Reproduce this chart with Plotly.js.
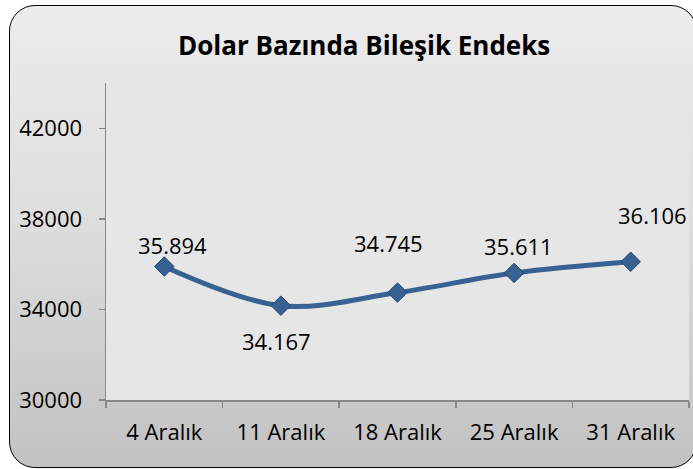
<!DOCTYPE html>
<html>
<head>
<meta charset="utf-8">
<script src="https://cdn.plot.ly/plotly-3.0.1.min.js"></script>
<style>
  html, body { margin: 0; padding: 0; width: 693px; height: 469px; overflow: hidden; background: #ffffff; }
  #frame {
    position: absolute; left: 9px; top: 5px; width: 688px; height: 463px;
    border: 1.6px solid #000; border-radius: 26px;
    background: linear-gradient(to bottom, #ececec 0%, #dedede 45%, #c2c2c2 100%);
    box-sizing: border-box;
  }
  #chart { position: absolute; left: 0; top: 0; width: 693px; height: 469px; }
</style>
</head>
<body>
<div id="frame"></div>
<div id="chart"></div>
<script>
const categories = ["4 Aralık", "11 Aralık", "18 Aralık", "25 Aralık", "31 Aralık"];
const values = [35894, 34167, 34745, 35611, 36106];
const yTickValues = [30000, 34000, 38000, 42000];

// label placement offsets (pixels) - style only
const labelDX = [8, -4, -9, 4, 22];
const labelDY = [22, -35, 50, 27, 47];

function fmtTR(v) {
  const th = Math.floor(v / 1000);
  const rest = String(v % 1000).padStart(3, "0");
  return th + "." + rest;
}

const font = "'Open Sans', 'Noto Sans', sans-serif";

const trace = {
  type: "scatter",
  mode: "lines+markers",
  x: categories,
  y: values,
  line: { color: "#386194", width: 5, shape: "spline", smoothing: 1 },
  marker: { symbol: "diamond", size: 15, color: "#386194", line: { color: "#27476f", width: 1 } },
  hoverinfo: "skip",
  cliponaxis: false
};

const annotations = values.map((v, i) => ({
  x: categories[i], y: v, xref: "x", yref: "y",
  text: fmtTR(v), showarrow: false,
  xshift: labelDX[i], yshift: labelDY[i],
  font: { family: font, size: 22, color: "#000" }
}));

annotations.push({
  text: "<b>Dolar Bazında Bileşik Endeks</b>",
  xref: "paper", yref: "paper", x: 0.442, y: 1, yanchor: "bottom", xanchor: "center",
  yshift: 18, showarrow: false,
  font: { family: font, size: 26, color: "#000" }
});

const layout = {
  width: 693, height: 469,
  margin: { l: 106, r: 4, t: 83, b: 69 },
  paper_bgcolor: "rgba(0,0,0,0)",
  plot_bgcolor: "#e6e6e6",
  showlegend: false,
  xaxis: {
    type: "category",
    showgrid: false, zeroline: false,
    showline: true, linecolor: "#888888", linewidth: 1.5,
    ticks: "outside", ticklen: 6, tickcolor: "#888888", tickwidth: 1.5,
    tickson: "boundaries",
    tickfont: { family: font, size: 22, color: "#000" },
    ticklabelstandoff: 12,
    range: [-0.5, 4.5],
    fixedrange: true
  },
  yaxis: {
    range: [30000, 44000],
    tickvals: yTickValues,
    tickformat: "d",
    showgrid: false, zeroline: false,
    showline: true, linecolor: "#888888", linewidth: 1.5,
    ticks: "outside", ticklen: 6, tickcolor: "#888888", tickwidth: 1.5,
    tickfont: { family: font, size: 22, color: "#000" },
    ticklabelstandoff: 12,
    fixedrange: true
  },
  annotations: annotations
};

Plotly.newPlot("chart", [trace], layout, { displayModeBar: false, staticPlot: true });
</script>
</body>
</html>
